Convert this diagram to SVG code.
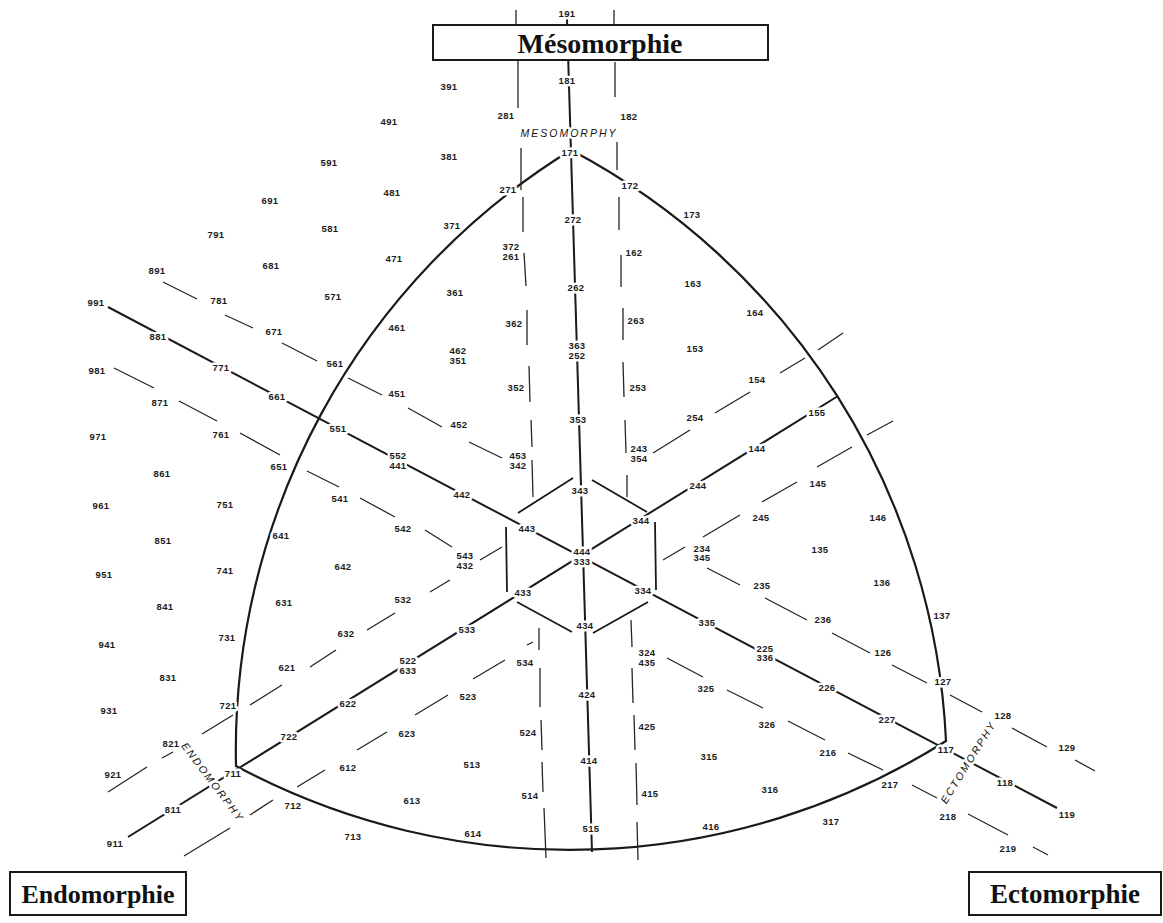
<svg xmlns="http://www.w3.org/2000/svg" width="1163" height="923" viewBox="0 0 1163 923">
<style>
.arc{fill:none;stroke:#1a1a1a;stroke-width:2.2}
.ax{fill:none;stroke:#1a1a1a;stroke-width:2}
.hx{fill:none;stroke:#1a1a1a;stroke-width:1.8}
.dl{fill:none;stroke:#262626;stroke-width:1.3}
.lb{font-family:"Liberation Sans",Arial,sans-serif;font-size:9.5px;font-weight:bold;fill:#1c1c1c;text-anchor:middle;dominant-baseline:central;letter-spacing:0.4px;paint-order:stroke;stroke:#fff;stroke-width:5px;stroke-linejoin:round}
.at{font-family:"Liberation Sans",Arial,sans-serif;font-style:italic;font-size:10.5px;letter-spacing:2px;fill:#111;text-anchor:middle;dominant-baseline:central;paint-order:stroke;stroke:#fff;stroke-width:5px;stroke-linejoin:round}
.box{fill:#fff;stroke:#1a1a1a;stroke-width:2}
.bt{font-family:"Liberation Serif","Times New Roman",serif;font-weight:bold;fill:#111;text-anchor:middle}
</style>
<rect x="0" y="0" width="1163" height="923" fill="#fff"/>
<g id="connectors">
<path id="outline" class="arc" d="M571,150 A705,705 0 0 0 236,766 A705,705 0 0 0 946,741 A705,705 0 0 0 571,150 Z"/>
<path id="axis-meso" class="ax" d="M567,19 L592,852"/>
<path id="axis-down" class="ax" d="M108,307 L1057,808"/>
<path id="axis-up" class="ax" d="M128,837 L838,396"/>
<path id="hexagon" class="hx" d="M518,513 L573,478 M592,480 L647,512 M655,522 L656,590 M593,633 L648,602 M517,602 L572,632 M506,527 L507,592"/>
<path id="v-left" class="dl" d="M516,10 L516,25 M518,60 L518,108 M521,148 L521,190 M523,197 L523,232 M524,253 L526,286 M527,310 L527,345 M529,366 L530,402 M531,420 L532,447 M532,460 L533,497 M539,628 L539,650 M540,668 L540,707 M541,720 L542,750 M542,762 L543,792 M544,808 L546,858"/>
<path id="v-right" class="dl" d="M614,10 L614,25 M615,62 L615,97 M617,142 L617,170 M619,197 L619,230 M621,255 L621,287 M623,308 L623,340 M623,362 L624,397 M625,420 L626,453 M627,475 L627,497 M631,620 L632,647 M632,668 L633,703 M634,715 L635,750 M636,763 L637,805 M637,822 L638,860"/>
<path id="d1" class="dl" d="M163,282 L197,299 M225,315 L253,328 M282,343 L317,361 M348,378 L382,395 M408,408 L442,427 M469,442 L502,458 M707,568 L740,585 M765,598 L807,620 M832,633 L870,653 M892,665 L927,683 M950,695 L982,712 M1012,728 L1047,747 M1075,760 L1095,771"/>
<path id="d2" class="dl" d="M114,368 L154,388 M179,401 L217,421 M240,433 L280,455 M307,471 L339,487 M360,498 L395,517 M425,530 L452,547 M667,658 L703,677 M727,690 L763,708 M788,721 L825,740 M848,753 L883,770 M912,785 L937,798 M968,814 L1008,835 M1033,847 L1048,855"/>
<path id="d3" class="dl" d="M108,792 L147,767 M162,758 L173,752 M202,734 L233,715 M250,705 L282,685 M310,667 L336,650 M367,630 L395,613 M430,592 L450,580 M480,560 L502,547 M653,453 L690,430 M715,413 L750,392 M780,373 L805,358 M818,350 L843,333"/>
<path id="d4" class="dl" d="M184,856 L230,828 M250,815 L273,800 M297,787 L325,770 M357,750 L387,732 M415,715 L448,695 M473,679 L505,660 M527,645 L533,642 M663,560 L685,547 M703,537 L740,515 M762,502 L797,482 M817,467 L852,447 M867,435 L893,421"/>
</g>
<g id="node-meso">
<rect class="box" x="433" y="25" width="335" height="35"/>
<text class="bt" x="600" y="53" font-size="28">Mésomorphie</text>
</g>
<g id="node-endo">
<rect class="box" x="10" y="872" width="176" height="43"/>
<text class="bt" x="98" y="903" font-size="26">Endomorphie</text>
</g>
<g id="node-ecto">
<rect class="box" x="969" y="872" width="192" height="43"/>
<text class="bt" x="1065" y="903" font-size="27">Ectomorphie</text>
</g>
<g id="axis-titles">
<text class="at" x="569" y="133">MESOMORPHY</text>
<text class="at" transform="translate(213,782) rotate(53)" x="0" y="0">ENDOMORPHY</text>
<text class="at" transform="translate(968,762) rotate(-58)" x="0" y="0">ECTOMORPHY</text>
</g>
<g id="labels">
<text class="lb" x="567" y="13">191</text>
<text class="lb" x="567" y="80">181</text>
<text class="lb" x="629" y="116">182</text>
<text class="lb" x="506" y="115">281</text>
<text class="lb" x="449" y="86">391</text>
<text class="lb" x="389" y="121">491</text>
<text class="lb" x="329" y="162">591</text>
<text class="lb" x="270" y="200">691</text>
<text class="lb" x="216" y="234">791</text>
<text class="lb" x="157" y="270">891</text>
<text class="lb" x="96" y="302">991</text>
<text class="lb" x="449" y="156">381</text>
<text class="lb" x="392" y="192">481</text>
<text class="lb" x="330" y="228">581</text>
<text class="lb" x="271" y="265">681</text>
<text class="lb" x="219" y="300">781</text>
<text class="lb" x="158" y="336">881</text>
<text class="lb" x="97" y="370">981</text>
<text class="lb" x="508" y="189">271</text>
<text class="lb" x="452" y="225">371</text>
<text class="lb" x="394" y="258">471</text>
<text class="lb" x="333" y="296">571</text>
<text class="lb" x="274" y="331">671</text>
<text class="lb" x="221" y="367">771</text>
<text class="lb" x="160" y="402">871</text>
<text class="lb" x="98" y="436">971</text>
<text class="lb" x="570" y="152">171</text>
<text class="lb" x="630" y="185">172</text>
<text class="lb" x="692" y="214">173</text>
<text class="lb" x="573" y="219">272</text>
<text class="lb" x="511" y="246">372</text>
<text class="lb" x="511" y="256">261</text>
<text class="lb" x="634" y="252">162</text>
<text class="lb" x="693" y="283">163</text>
<text class="lb" x="576" y="287">262</text>
<text class="lb" x="455" y="292">361</text>
<text class="lb" x="755" y="312">164</text>
<text class="lb" x="397" y="327">461</text>
<text class="lb" x="514" y="323">362</text>
<text class="lb" x="636" y="320">263</text>
<text class="lb" x="458" y="350">462</text>
<text class="lb" x="458" y="360">351</text>
<text class="lb" x="577" y="345">363</text>
<text class="lb" x="577" y="355">252</text>
<text class="lb" x="695" y="348">153</text>
<text class="lb" x="335" y="363">561</text>
<text class="lb" x="277" y="396">661</text>
<text class="lb" x="397" y="393">451</text>
<text class="lb" x="516" y="387">352</text>
<text class="lb" x="638" y="387">253</text>
<text class="lb" x="757" y="379">154</text>
<text class="lb" x="695" y="417">254</text>
<text class="lb" x="578" y="419">353</text>
<text class="lb" x="338" y="428">551</text>
<text class="lb" x="221" y="434">761</text>
<text class="lb" x="459" y="424">452</text>
<text class="lb" x="817" y="412">155</text>
<text class="lb" x="639" y="448">243</text>
<text class="lb" x="639" y="458">354</text>
<text class="lb" x="518" y="455">453</text>
<text class="lb" x="518" y="465">342</text>
<text class="lb" x="398" y="455">552</text>
<text class="lb" x="398" y="465">441</text>
<text class="lb" x="757" y="448">144</text>
<text class="lb" x="279" y="466">651</text>
<text class="lb" x="162" y="473">861</text>
<text class="lb" x="818" y="483">145</text>
<text class="lb" x="878" y="517">146</text>
<text class="lb" x="580" y="490">343</text>
<text class="lb" x="698" y="485">244</text>
<text class="lb" x="462" y="494">442</text>
<text class="lb" x="340" y="498">541</text>
<text class="lb" x="101" y="505">961</text>
<text class="lb" x="225" y="504">751</text>
<text class="lb" x="761" y="517">245</text>
<text class="lb" x="641" y="520">344</text>
<text class="lb" x="527" y="528">443</text>
<text class="lb" x="403" y="528">542</text>
<text class="lb" x="281" y="535">641</text>
<text class="lb" x="163" y="540">851</text>
<text class="lb" x="820" y="549">135</text>
<text class="lb" x="702" y="548">234</text>
<text class="lb" x="702" y="557">345</text>
<text class="lb" x="582" y="551">444</text>
<text class="lb" x="582" y="561">333</text>
<text class="lb" x="465" y="555">543</text>
<text class="lb" x="465" y="565">432</text>
<text class="lb" x="343" y="566">642</text>
<text class="lb" x="225" y="570">741</text>
<text class="lb" x="104" y="574">951</text>
<text class="lb" x="882" y="582">136</text>
<text class="lb" x="762" y="585">235</text>
<text class="lb" x="643" y="590">334</text>
<text class="lb" x="523" y="592">433</text>
<text class="lb" x="403" y="599">532</text>
<text class="lb" x="284" y="602">631</text>
<text class="lb" x="165" y="606">841</text>
<text class="lb" x="823" y="619">236</text>
<text class="lb" x="707" y="622">335</text>
<text class="lb" x="585" y="625">434</text>
<text class="lb" x="467" y="629">533</text>
<text class="lb" x="346" y="633">632</text>
<text class="lb" x="227" y="637">731</text>
<text class="lb" x="107" y="644">941</text>
<text class="lb" x="942" y="615">137</text>
<text class="lb" x="883" y="652">126</text>
<text class="lb" x="765" y="648">225</text>
<text class="lb" x="765" y="657">336</text>
<text class="lb" x="647" y="652">324</text>
<text class="lb" x="647" y="662">435</text>
<text class="lb" x="525" y="662">534</text>
<text class="lb" x="408" y="660">522</text>
<text class="lb" x="408" y="670">633</text>
<text class="lb" x="287" y="667">621</text>
<text class="lb" x="168" y="677">831</text>
<text class="lb" x="109" y="710">931</text>
<text class="lb" x="943" y="681">127</text>
<text class="lb" x="827" y="687">226</text>
<text class="lb" x="706" y="688">325</text>
<text class="lb" x="587" y="694">424</text>
<text class="lb" x="468" y="696">523</text>
<text class="lb" x="348" y="703">622</text>
<text class="lb" x="228" y="705">721</text>
<text class="lb" x="171" y="743">821</text>
<text class="lb" x="887" y="719">227</text>
<text class="lb" x="767" y="724">326</text>
<text class="lb" x="647" y="726">425</text>
<text class="lb" x="528" y="732">524</text>
<text class="lb" x="407" y="733">623</text>
<text class="lb" x="289" y="736">722</text>
<text class="lb" x="1003" y="715">128</text>
<text class="lb" x="1067" y="747">129</text>
<text class="lb" x="946" y="749">117</text>
<text class="lb" x="828" y="752">216</text>
<text class="lb" x="709" y="756">315</text>
<text class="lb" x="589" y="760">414</text>
<text class="lb" x="472" y="764">513</text>
<text class="lb" x="348" y="767">612</text>
<text class="lb" x="233" y="773">711</text>
<text class="lb" x="113" y="774">921</text>
<text class="lb" x="1005" y="782">118</text>
<text class="lb" x="890" y="784">217</text>
<text class="lb" x="770" y="789">316</text>
<text class="lb" x="650" y="793">415</text>
<text class="lb" x="530" y="795">514</text>
<text class="lb" x="412" y="800">613</text>
<text class="lb" x="293" y="805">712</text>
<text class="lb" x="173" y="809">811</text>
<text class="lb" x="1067" y="814">119</text>
<text class="lb" x="948" y="816">218</text>
<text class="lb" x="831" y="821">317</text>
<text class="lb" x="711" y="826">416</text>
<text class="lb" x="591" y="828">515</text>
<text class="lb" x="473" y="833">614</text>
<text class="lb" x="353" y="836">713</text>
<text class="lb" x="115" y="843">911</text>
<text class="lb" x="1008" y="848">219</text>
</g>
</svg>
